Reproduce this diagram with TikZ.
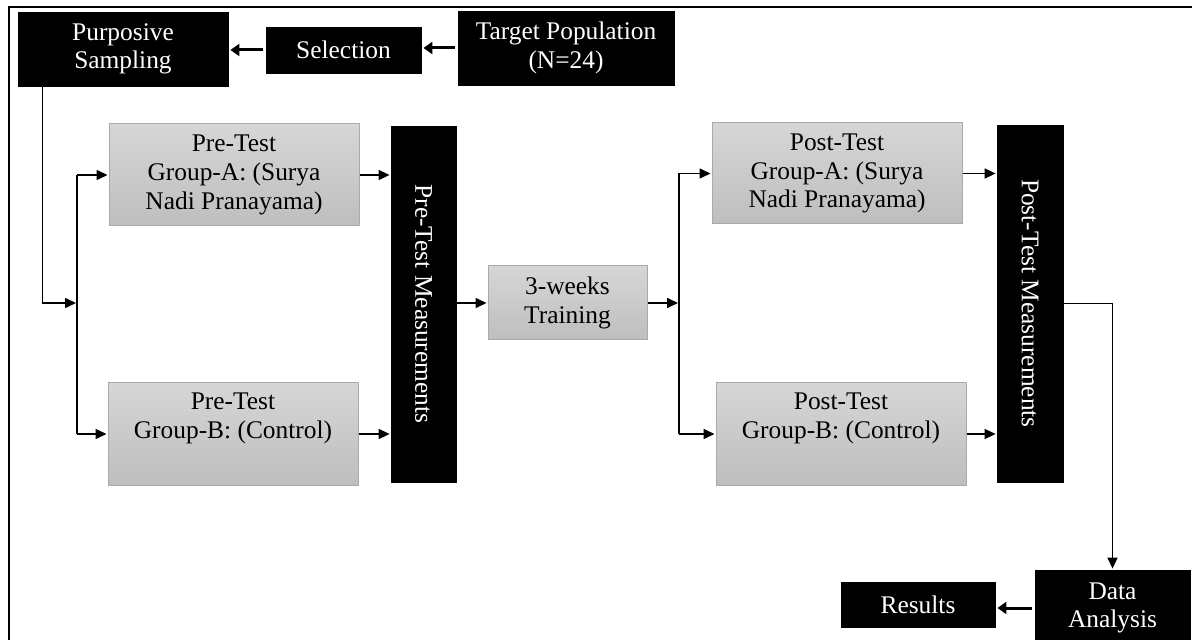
\documentclass[tikz,border=0pt]{standalone}
\usepackage{fontspec}
\setmainfont{Liberation Serif}
\usetikzlibrary{arrows.meta}
\definecolor{gtop}{RGB}{214,214,214}
\definecolor{gbot}{RGB}{190,190,190}
\definecolor{gline}{RGB}{170,170,170}
\tikzset{
  boxfont/.style={font=\fontsize{12.7pt}{14.3pt}\selectfont},
  graybox/.style={rectangle, draw=gline, line width=0.5pt, top color=gtop, bottom color=gbot,
    align=center, inner sep=0pt, boxfont},
  blackbox/.style={rectangle, fill=black, draw=black, text=white, align=center, inner sep=0pt, boxfont},
  vlabel/.style={text=white, rotate=-90, inner sep=0pt, boxfont},
  arr/.style={line width=0.8pt, -{Triangle[length=5.5pt,width=5pt]}, shorten >=0.5pt},
  arrthick/.style={line width=1.5pt, -{Triangle[length=4.5pt,width=6pt]}, shorten >=1pt, shorten <=1.5pt},
  plain/.style={line width=0.8pt}
}
\begin{document}
\begin{tikzpicture}[x=0.5pt,y=-0.5pt]
\useasboundingbox (0,0) rectangle (1192,640);
\fill[white] (0,0) rectangle (1192,640);
% frame
\draw[line width=1pt] (9,642) -- (9,7) -- (1194,7);

% top row
\node[blackbox, minimum width=105pt, minimum height=37pt] (purp) at (123,49) {Purposive\\Sampling};
\node[blackbox, minimum width=77.5pt, minimum height=23pt] (sel) at (343.5,50) {Selection};
\node[blackbox, minimum width=108pt, minimum height=37pt] (targ) at (566,48) {Target Population\\(N=24)};

% pre-test
\node[graybox, minimum width=125pt, minimum height=51pt] (preA) at (234,175) {Pre-Test\\Group-A: (Surya\\Nadi Pranayama)};
\node[graybox, minimum width=125pt, minimum height=51pt] (preB) at (233,434) {Pre-Test\\Group-B: (Control)\\\strut};
\node[blackbox, minimum width=32.5pt, minimum height=178pt] (preM) at (423.5,304) {};
\node[vlabel] (preMt) at (preM.center) {Pre-Test Measurements};

% training
\node[graybox, minimum width=79.5pt, minimum height=37pt] (train) at (567.5,303) {3-weeks\\Training};

% post-test
\node[graybox, minimum width=125pt, minimum height=50.5pt] (postA) at (837,173.5) {Post-Test\\Group-A: (Surya\\Nadi Pranayama)};
\node[graybox, minimum width=125pt, minimum height=51pt] (postB) at (841,434) {Post-Test\\Group-B: (Control)\\\strut};
\node[blackbox, minimum width=33pt, minimum height=178.5pt] (postM) at (1030,303.5) {};
\node[vlabel] (postMt) at (postM.center) {Post-Test Measurements};

% bottom
\node[blackbox, minimum width=77.5pt, minimum height=38pt] (data) at (1112.5,608) {Data\\Analysis};
\node[blackbox, minimum width=77pt, minimum height=22.5pt] (res) at (918,604.5) {Results};

% top arrows
\draw[arrthick] (sel.west) -- (sel.west -| purp.east);
\draw[arrthick] (targ.west) -- (targ.west -| sel.east);

% branch from purposive sampling
\coordinate (bl) at (77,303);
\draw[arr] ([xshift=12.5pt]purp.south west) |- (bl);
\draw[plain] (bl |- preA.west) -- (bl |- preB.west);
\draw[arr] (bl |- preA.west) -- (preA.west);
\draw[arr] (bl |- preB.west) -- (preB.west);

\draw[arr] (preA.east) -- (preA.east -| preM.west);
\draw[arr] (preB.east) -- (preB.east -| preM.west);
\draw[arr] (preM.east |- train.west) -- (train.west);

% branch after training
\coordinate (br) at (679,303);
\draw[arr] (train.east) -- (br);
\draw[plain] (br |- postA.west) -- (br |- postB.west);
\draw[arr] (br |- postA.west) -- (postA.west);
\draw[arr] (br |- postB.west) -- (postB.west);

\draw[arr] (postA.east) -- (postA.east -| postM.west);
\draw[arr] (postB.east) -- (postB.east -| postM.west);

\draw[arr] (postM.east) -| (data.north);
\draw[arrthick] (data.west) -- (data.west -| res.east);
\end{tikzpicture}
\end{document}
